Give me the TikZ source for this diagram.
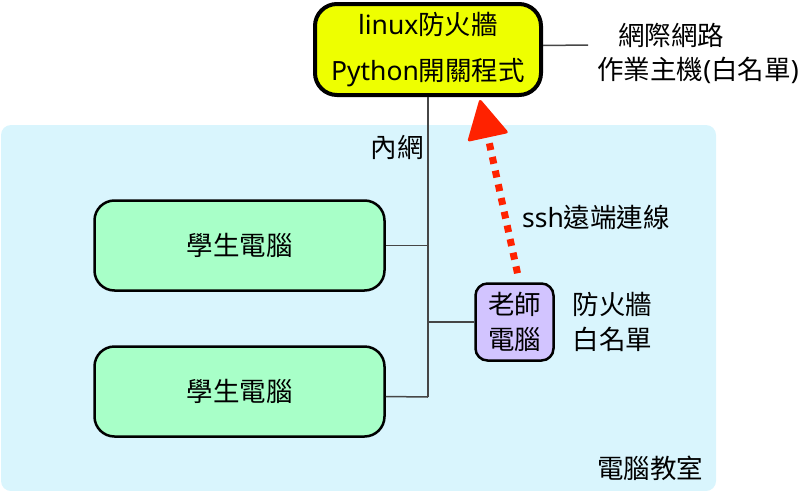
\documentclass[tikz,border=0pt]{standalone}
\usepackage{fontspec}
\setmainfont{Noto Sans}
\newfontfamily\cjk{Noto Sans CJK TC}
\newcommand{\zh}[1]{{\cjk #1}}
\usepackage{xcolor}
\usepackage{tikz}
\usetikzlibrary{arrows.meta,positioning}
\definecolor{fwyellow}{RGB}{238,255,0}
\definecolor{pcgreen}{RGB}{168,255,200}
\definecolor{tcpurple}{RGB}{210,196,255}
\definecolor{lanblue}{RGB}{217,245,253}
\definecolor{sshred}{RGB}{255,34,0}
\definecolor{wiregray}{RGB}{70,70,70}
\tikzset{
  txt/.style={font=\fontsize{26.5}{35}\selectfont},
  box/.style={draw, txt, rounded corners=20pt, align=center, inner sep=0pt, line width=2.5pt},
  fw/.style={box, fill=fwyellow, line width=4pt, rounded corners=22pt, minimum width=226pt, minimum height=91pt},
  pc/.style={box, fill=pcgreen, minimum width=290pt, minimum height=90pt},
  tpc/.style={box, fill=tcpurple, rounded corners=12pt, minimum width=78pt, minimum height=77pt},
  lbl/.style={txt, align=center, inner sep=0pt},
  wire/.style={draw=wiregray, line width=1.5pt},
  arrow/.style={-{Triangle[length=40pt, width=42pt, line width=3pt, round]}, sshred, line width=7pt, dash pattern=on 7pt off 7pt}
}

\begin{document}
\begin{tikzpicture}[x=1pt, y=-1pt, node distance=18pt]
    \useasboundingbox (0,0) rectangle (800,490);
    % classroom
    \fill[lanblue, rounded corners=10pt] (1,125) rectangle (716,491);

    % firewall host
    \node[fw] (fire) at (428,49.5) {linux\zh{防火牆}\\[11pt]Python\zh{開關程式}};
    % student and teacher PCs
    \node[pc] (pcA) at (239.5,245.5) {\zh{學生電腦}};
    \node[pc] (pcB) at (239.5,391.5) {\zh{學生電腦}};
    \node[tpc] (tpc) at (514.5,322) {\zh{老師}\\\zh{電腦}};

    % wires
    \coordinate (busEnd) at (428,397);
    \coordinate (inetEnd) at (588,45);
    \draw[wire] (fire.south) -- (busEnd);
    \draw[wire] (pcA.east) -- (pcA.east -| busEnd);
    \draw[wire] ([yshift=-5pt]pcB.east) -- (busEnd);
    \draw[wire] (tpc.west) -- (tpc.west -| busEnd);
    \draw[wire] ([yshift=4pt]fire.east) -- (inetEnd);

    % ssh
    \draw[arrow] ([xshift=3pt,yshift=9pt]tpc.north) -- ([xshift=52pt,yshift=-3pt]fire.south);

    % labels
    \node[lbl] (inet) at (671,35) {\zh{網際網路}};
    \node[lbl] (host) at (698,70) {\zh{作業主機}(\zh{白名單})};
    \node[lbl] (lan) at (397,147) {\zh{內網}};
    \node[lbl] (ssh) at (596,217) {ssh\zh{遠端連線}};
    \node[lbl, right=of tpc] (tfw) {\zh{防火牆}\\\zh{白名單}};
    \node[lbl] (room) at (650,468) {\zh{電腦教室}};
  \end{tikzpicture}
\end{document}
